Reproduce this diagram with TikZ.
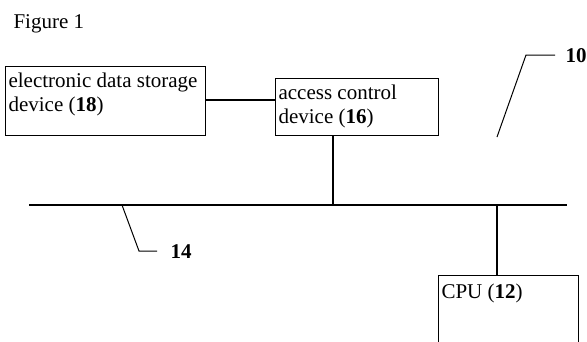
\documentclass[tikz,border=0pt]{standalone}
\usepackage{fontspec}
\setmainfont{Liberation Serif}
\begin{document}
\begin{tikzpicture}[x=1pt,y=-1pt,line width=1.1pt,
  box/.style={draw,line width=1.1pt,anchor=north west,inner sep=0pt},
  txt/.style={anchor=base west,inner sep=0pt,font=\fontsize{21}{23.5}\selectfont,align=left},
  lbl/.style={anchor=base west,inner sep=0pt,font=\fontsize{21}{23.5}\selectfont\bfseries}]
\clip (0,0) rectangle (587,341);
\fill[white] (0,0) rectangle (587,341);
\node[txt] (fig) at (13,28) {Figure 1};
% boxes
\node[box,minimum width=200pt,minimum height=69pt] (storage) at (5,66) {};
\node[txt] (storagetxt) at (8,111) {electronic data storage\\device (\textbf{18})};
\node[box,minimum width=163pt,minimum height=57pt] (access) at (275,78) {};
\node[txt] (accesstxt) at (278,123) {access control\\device (\textbf{16})};
\node[box,minimum width=140pt,minimum height=80pt] (cpu) at (438,275) {};
\node[txt] (cputxt) at (441,298) {CPU (\textbf{12})};
% bus
\coordinate (busL) at (29,205);
\coordinate (busR) at (567,205);
\draw (busL) -- (busR);
% connectors
\draw (storage.east |- 0,100) -- (access.west |- 0,100);
\coordinate (accB) at (333,205);
\draw (access.south -| accB) -- (accB);
\coordinate (cpuT) at (497,205);
\draw (cpuT) -- (cpu.north -| cpuT);
% leader 14
\coordinate (l14a) at (122,205);
\coordinate (l14b) at (139,251);
\coordinate (l14c) at (157,251);
\draw[line width=1pt] (l14a) -- (l14b) -- (l14c);
\node[lbl] (n14) at (170,258) {14};
% leader 10
\coordinate (l10a) at (497,137);
\coordinate (l10b) at (526,55);
\coordinate (l10c) at (555,55);
\draw[line width=1pt] (l10a) -- (l10b) -- (l10c);
\node[lbl] (n10) at (565,62) {10};
\end{tikzpicture}
\end{document}
